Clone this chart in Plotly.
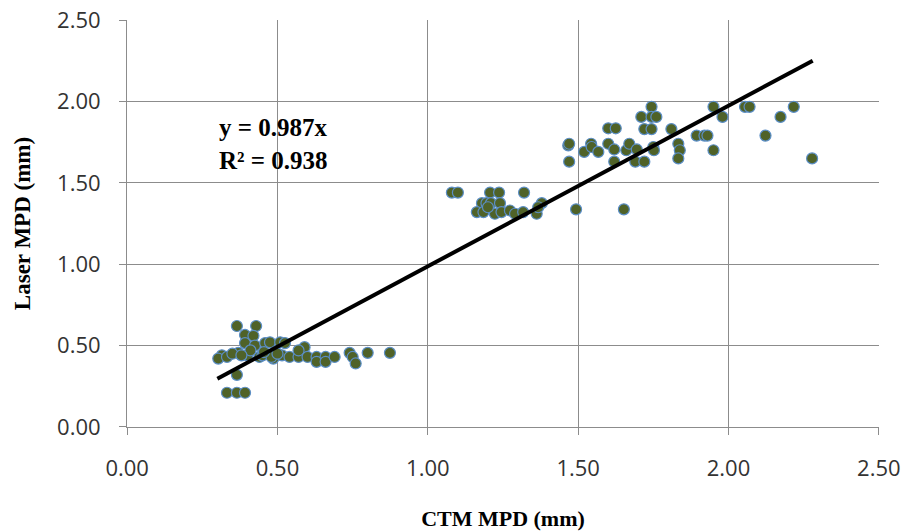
import plotly.graph_objects as go

# CTM MPD (x) vs Laser MPD (y), mm
ctm_low = [0.365, 0.429, 0.392, 0.42, 0.392, 0.425, 0.459, 0.475, 0.509, 0.525,
           0.315, 0.303, 0.332, 0.37, 0.40, 0.44, 0.486, 0.515, 0.54, 0.57,
           0.59, 0.57, 0.60, 0.63, 0.63, 0.66, 0.66, 0.69, 0.74, 0.75,
           0.76, 0.80, 0.874, 0.365, 0.332, 0.365, 0.392, 0.45, 0.48, 0.35,
           0.41, 0.455, 0.50, 0.38]
laser_low = [0.62, 0.62, 0.565, 0.56, 0.515, 0.50, 0.515, 0.52, 0.52, 0.515,
             0.44, 0.42, 0.43, 0.455, 0.44, 0.43, 0.42, 0.44, 0.43, 0.43,
             0.49, 0.47, 0.43, 0.43, 0.40, 0.43, 0.40, 0.43, 0.455, 0.43,
             0.39, 0.455, 0.455, 0.32, 0.21, 0.21, 0.21, 0.44, 0.43, 0.45,
             0.47, 0.46, 0.45, 0.44]

ctm_mid = [1.08, 1.10, 1.207, 1.237, 1.32, 1.18, 1.195, 1.21, 1.24, 1.163,
           1.185, 1.223, 1.245, 1.273, 1.29, 1.317, 1.362, 1.379, 1.367, 1.20]
laser_mid = [1.44, 1.44, 1.44, 1.44, 1.44, 1.375, 1.375, 1.375, 1.375, 1.32,
             1.32, 1.31, 1.32, 1.33, 1.31, 1.32, 1.31, 1.375, 1.35, 1.35]

ctm_high = [1.467, 1.47, 1.47, 1.493, 1.652, 1.52, 1.543, 1.545, 1.567, 1.60,
            1.625, 1.60, 1.62, 1.62, 1.66, 1.67, 1.695, 1.69, 1.72, 1.71,
            1.744, 1.744, 1.76, 1.72, 1.744, 1.75, 1.752, 1.81, 1.833, 1.838,
            1.833, 1.894, 1.92, 1.93, 1.95, 1.95, 1.98, 2.055, 2.07, 2.217,
            2.173, 2.123, 2.278]
laser_high = [1.73, 1.74, 1.63, 1.337, 1.337, 1.69, 1.74, 1.72, 1.69, 1.835,
              1.835, 1.74, 1.705, 1.63, 1.70, 1.74, 1.705, 1.63, 1.63, 1.905,
              1.967, 1.905, 1.905, 1.83, 1.83, 1.72, 1.70, 1.83, 1.74, 1.70,
              1.65, 1.79, 1.79, 1.79, 1.70, 1.967, 1.905, 1.967, 1.967, 1.967,
              1.905, 1.79, 1.65]

ctm = ctm_low + ctm_mid + ctm_high
laser = laser_low + laser_mid + laser_high

slope = 0.987
r2 = 0.938
fit_x = [0.30, 2.28]
fit_y = [slope * v for v in fit_x]

tick_vals = [0.0, 0.5, 1.0, 1.5, 2.0, 2.5]
tick_text = ["0.00", "0.50", "1.00", "1.50", "2.00", "2.50"]

fig = go.Figure()
fig.add_trace(go.Scatter(
    x=ctm, y=laser, mode="markers",
    marker=dict(size=11, color="#4F6228", line=dict(color="#5B8EC6", width=1.2)),
    showlegend=False))
fig.add_trace(go.Scatter(
    x=fit_x, y=fit_y, mode="lines",
    line=dict(color="black", width=4), showlegend=False))

fig.add_annotation(
    x=0.0, y=1.74, xref="x", yref="y", xanchor="left", yanchor="middle",
    text=f"<b>y = {slope}x<br>R² = {r2}</b>", showarrow=False, align="left",
    font=dict(family="Liberation Serif", size=25, color="black"), xshift=90)

axis_common = dict(
    range=[-0.0005, 2.5005], tickvals=tick_vals, ticktext=tick_text,
    showgrid=True, gridcolor="#8C8C8C", gridwidth=1,
    showline=True, linecolor="#8C8C8C", linewidth=1,
    ticks="outside", ticklen=7, tickcolor="#8C8C8C",
    zeroline=False, automargin=False, ticklabeloverflow="allow",
    tickfont=dict(family="Open Sans", size=22, color="#333333"),
)

fig.update_xaxes(**axis_common, ticklabelstandoff=15,
                 title=dict(text="<b>CTM MPD (mm)</b>", standoff=45,
                            font=dict(family="Liberation Serif", size=22, color="black")))
fig.update_yaxes(**axis_common, ticklabelstandoff=14,
                 title=dict(text="<b>Laser MPD (mm)</b>", standoff=20,
                            font=dict(family="Liberation Serif", size=23, color="black")))

fig.update_layout(
    width=905, height=531,
    margin=dict(l=127, r=26, t=20, b=104),
    plot_bgcolor="white", paper_bgcolor="white",
)

fig.write_html("out.html", config={"displayModeBar": False},
               post_script="document.body.style.margin='0px';document.body.style.overflow='hidden';")
